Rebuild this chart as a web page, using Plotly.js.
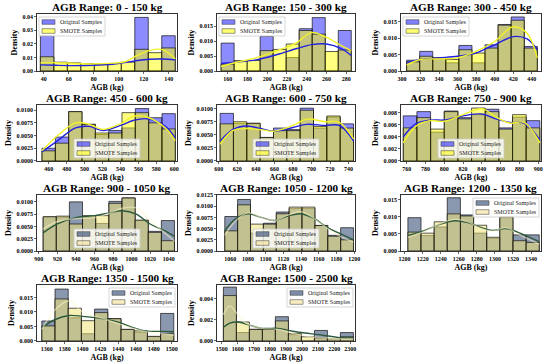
<!DOCTYPE html>
<html><head><meta charset="utf-8">
<script src="https://cdn.plot.ly/plotly-3.0.1.min.js"></script>
<style>html,body{margin:0;padding:0;background:#fff}#chart{width:550px;height:364px}</style>
</head><body><div id="chart"></div><script>
// ---------- DATA ----------
const rangeTitles = ["AGB Range: 0 - 150 kg","AGB Range: 150 - 300 kg","AGB Range: 300 - 450 kg",
  "AGB Range: 450 - 600 kg","AGB Range: 600 - 750 kg","AGB Range: 750 - 900 kg",
  "AGB Range: 900 - 1050 kg","AGB Range: 1050 - 1200 kg","AGB Range: 1200 - 1350 kg",
  "AGB Range: 1350 - 1500 kg","AGB Range: 1500 - 2500 kg"];
const seriesNames = ["Original Samples","SMOTE Samples"];

const p1Bins = [42.7,53.5,64.3,75.1,85.9,96.7,107.5,118.3,129.1,139.9];
const p1Orig = [0.026,0,0,0,0,0,0,0.0395,0,0.026];
const p1Smote = [0.0105,0.0065,0.006,0.0055,0.005,0.0055,0.0065,0.016,0.0135,0.017];
const p1KdeX = [37.3,50,65,80,95,105,115,125,135,145.3];
const p1KdeOrig = [0.0045,0.0042,0.004,0.0042,0.005,0.0062,0.0078,0.0087,0.0088,0.0082];
const p1KdeSmote = [0.006,0.0062,0.0056,0.0053,0.0058,0.0068,0.0115,0.0152,0.0158,0.009];

const p2Bins = [159.8,173.0,186.2,199.4,212.6,225.8,239.0,252.2,265.4,278.6];
const p2Orig = [0.0093,0,0,0.0116,0,0.0045,0.0141,0.0178,0,0.0135];
const p2Smote = [0.0023,0.0035,0.0035,0.0068,0.0072,0.009,0.0135,0.0123,0.0065,0.007];
const p2KdeX = [153.2,170,190,210,230,245,260,275,285.2];
const p2KdeOrig = [0.0025,0.003,0.0038,0.0055,0.0075,0.0088,0.009,0.0075,0.0052];
const p2KdeSmote = [0.0015,0.003,0.0045,0.0068,0.0095,0.0128,0.0112,0.0085,0.0068];

const p3Bins = [312.1,326.2,340.3,354.4,368.5,382.6,396.7,410.8,424.9,439.0];
const p3Orig = [0.0033,0.006,0.004,0.0025,0.0078,0.0025,0.008,0.0142,0.0165,0.0075];
const p3Smote = [0.0028,0.0045,0.004,0.0035,0.0065,0.0055,0.007,0.014,0.0155,0.007];
const p3KdeX = [305,320,340,360,380,400,420,435,446];
const p3KdeOrig = [0.0025,0.0035,0.004,0.0045,0.0055,0.008,0.0105,0.0098,0.0065];
const p3KdeSmote = [0.0018,0.0035,0.0037,0.004,0.006,0.009,0.0135,0.0115,0.004];

const p4Bins = [460.0,474.9,489.7,504.6,519.4,534.3,549.1,564.0,578.8,593.7];
const p4Orig = [0.0025,0.0047,0.0097,0.0072,0.0052,0.006,0.0065,0.0103,0.0085,0.0093];
const p4Smote = [0.002,0.0035,0.0097,0.0072,0.0055,0.0055,0.0095,0.0095,0.0075,0.0063];
const p4KdeX = [452.6,470,490,505,520,540,555,570,590,601];
const p4KdeOrig = [0.0018,0.004,0.0065,0.0068,0.006,0.007,0.008,0.0083,0.0068,0.0045];
const p4KdeSmote = [0.002,0.005,0.0075,0.0072,0.0062,0.0073,0.0088,0.0086,0.0065,0.004];

const p5Bins = [608.6,623.0,637.4,651.8,666.2,680.6,695.0,709.4,723.8,738.2];
const p5Orig = [0.0091,0.0072,0.0072,0.0045,0.0063,0.006,0.0101,0.0063,0.0084,0.0071];
const p5Smote = [0.0071,0.0075,0.0072,0.0045,0.0058,0.0058,0.0097,0.0066,0.0086,0.0063];
const p5KdeX = [601.4,615,630,645,660,680,695,715,730,745.6];
const p5KdeOrig = [0.0038,0.006,0.0067,0.0062,0.0057,0.0064,0.007,0.0068,0.0068,0.0038];
const p5KdeSmote = [0.0032,0.0058,0.0062,0.006,0.0057,0.0068,0.008,0.0075,0.0074,0.0042];

const p6Bins = [763.7,778.2,792.8,807.3,821.8,836.4,850.9,865.5,880.0,894.5];
const p6Orig = [0.0075,0.0082,0.0048,0.0083,0.0072,0.0077,0.0086,0.0055,0.0073,0.0067];
const p6Smote = [0.0055,0.0072,0.0053,0.0082,0.007,0.0088,0.0082,0.0053,0.0077,0.0055];
const p6KdeX = [756.4,770,785,800,820,840,855,870,885,901.8];
const p6KdeOrig = [0.004,0.0062,0.0068,0.0068,0.0075,0.0078,0.007,0.0064,0.0063,0.0035];
const p6KdeSmote = [0.003,0.0058,0.0067,0.0066,0.0077,0.0087,0.0073,0.0063,0.0064,0.003];

const p7Bins = [911.7,925.9,940.0,954.2,968.4,982.6,996.8,1010.9,1025.1,1039.2];
const p7Orig = [0.0069,0.0069,0.01,0.0069,0.0056,0.0101,0.0108,0.0062,0.004,0.0062];
const p7Smote = [0.007,0.0071,0.0055,0.0072,0.0072,0.0097,0.0108,0.0063,0.0038,0.0021];
const p7KdeX = [904.6,920,940,960,975,990,1005,1020,1035,1046.3];
const p7KdeOrig = [0.0037,0.0055,0.0068,0.0072,0.0077,0.0082,0.0075,0.0055,0.0042,0.003];
const p7KdeSmote = [0.0045,0.006,0.0066,0.0068,0.0076,0.0087,0.0088,0.0062,0.0038,0.002];

const p8Bins = [1061.1,1075.6,1090.2,1104.7,1119.3,1133.8,1148.4,1162.9,1177.5,1192.0];
const p8Orig = [0.0077,0.0115,0.004,0.0062,0.0087,0.0095,0.0095,0.0057,0.0035,0.0052];
const p8Smote = [0.0045,0.0103,0.006,0.006,0.0083,0.0098,0.0098,0.0057,0.0033,0.0025];
const p8KdeX = [1053.8,1065,1080,1095,1110,1125,1140,1155,1170,1185,1199.3];
const p8KdeOrig = [0.0045,0.007,0.0083,0.0075,0.0068,0.0078,0.0083,0.0072,0.0052,0.0038,0.0025];
const p8KdeSmote = [0.0035,0.0065,0.0085,0.0075,0.0068,0.008,0.0088,0.0072,0.005,0.0032,0.002];

const p9Bins = [1210.9,1225.4,1240.0,1254.5,1269.1,1283.6,1298.2,1312.7,1327.3,1341.8];
const p9Orig = [0.0097,0.0045,0.007,0.0155,0.0105,0.0052,0.0037,0.0097,0.0047,0.0047];
const p9Smote = [0.0055,0.0052,0.0085,0.0108,0.0102,0.0075,0.004,0.01,0.003,0.0025];
const p9KdeX = [1203.6,1220,1240,1255,1270,1285,1297,1312,1325,1349];
const p9KdeOrig = [0.0045,0.0058,0.0078,0.0088,0.0083,0.0068,0.006,0.0065,0.0055,0.0027];
const p9KdeSmote = [0.004,0.0055,0.008,0.0092,0.0085,0.0065,0.0058,0.0068,0.005,0.002];

const p10Bins = [1361.8,1376.6,1391.4,1406.2,1421.0,1435.8,1450.6,1465.4,1480.2,1495.0];
const p10Orig = [0.0069,0.0179,0.008,0.0025,0.011,0.0077,0.004,0.003,0.0015,0.0095];
const p10Smote = [0.0052,0.0145,0.0113,0.007,0.0098,0.0077,0.004,0.0035,0.0016,0.0025];
const p10KdeX = [1354.4,1370,1385,1400,1420,1440,1455,1470,1490,1502.6];
const p10KdeOrig = [0.0047,0.0075,0.0088,0.0085,0.0078,0.0065,0.0048,0.0035,0.0033,0.0032];
const p10KdeSmote = [0.004,0.011,0.0138,0.01,0.008,0.006,0.0045,0.0033,0.0025,0.002];

const p11Bins = [1550.5,1631.5,1712.5,1793.5,1874.5,1955.5,2036.5,2117.5,2198.5,2279.5];
const p11Orig = [0.0051,0.0008,0.0011,0.0011,0.0023,0.0006,0,0.001,0,0.0008];
const p11Smote = [0.0043,0.0018,0.0011,0.0011,0.0019,0.0007,0.0004,0.0003,0.0002,0.0004];
const p11KdeX = [1510,1550,1600,1650,1750,1850,1950,2050,2150,2250,2320];
const p11KdeOrig = [0.0013,0.0017,0.0018,0.0016,0.0012,0.0012,0.0009,0.0007,0.0005,0.0003,0.0003];
const p11KdeSmote = [0.0025,0.0033,0.0025,0.0017,0.0012,0.0011,0.0007,0.0004,0.0003,0.0002,0.0002];

// ---------- LAYOUT / STYLE ----------
const panels = [
  [p1Bins,p1Orig,p1Smote,p1KdeX,p1KdeOrig,p1KdeSmote],
  [p2Bins,p2Orig,p2Smote,p2KdeX,p2KdeOrig,p2KdeSmote],
  [p3Bins,p3Orig,p3Smote,p3KdeX,p3KdeOrig,p3KdeSmote],
  [p4Bins,p4Orig,p4Smote,p4KdeX,p4KdeOrig,p4KdeSmote],
  [p5Bins,p5Orig,p5Smote,p5KdeX,p5KdeOrig,p5KdeSmote],
  [p6Bins,p6Orig,p6Smote,p6KdeX,p6KdeOrig,p6KdeSmote],
  [p7Bins,p7Orig,p7Smote,p7KdeX,p7KdeOrig,p7KdeSmote],
  [p8Bins,p8Orig,p8Smote,p8KdeX,p8KdeOrig,p8KdeSmote],
  [p9Bins,p9Orig,p9Smote,p9KdeX,p9KdeOrig,p9KdeSmote],
  [p10Bins,p10Orig,p10Smote,p10KdeX,p10KdeOrig,p10KdeSmote],
  [p11Bins,p11Orig,p11Smote,p11KdeX,p11KdeOrig,p11KdeSmote]
];
const xRanges = [[34.6,146.7],[149,289],[299,450],[447,603],[598,747],[754,903],[898,1049],[1045,1201],[1196,1351],[1349,1506],[1470,2330]];
const yRanges = [[0,0.042],[0,0.019],[0,0.0174],[0,0.011],[0,0.0107],[0,0.0093],[0,0.0114],[0,0.0125],[0,0.0163],[0,0.0193],[0,0.0053]];
const xDticks = [20,20,20,20,20,20,20,20,20,20,100];
const yDticks = [0.01,0.005,0.005,0.0025,0.0025,0.002,0.0025,0.0025,0.005,0.005,0.002];
const yFormats = ['.2f','.3f','.3f','.4f','.4f','.3f','.4f','.4f','.3f','.3f','.3f'];
const legendPos = ['ul','ul','ul','lc','lc','lc','lc','lc','ur','ur','ur'];
const colDom = [[0.0673,0.3218],[0.3945,0.6455],[0.7291,0.9836]];
const rowDom = [[0.8049,0.9615],[0.5577,0.7115],[0.3104,0.4643],[0.0632,0.217]];
const themes = {
  A:{orig:'rgba(0,0,255,0.45)', smote:'rgba(255,255,0,0.5)', kOrig:'#2222dd', kSmote:'#f2f22a',
     swOrig:'rgba(0,0,255,0.5)', swSmote:'rgba(255,255,0,0.55)'},
  B:{orig:'rgba(40,65,110,0.55)', smote:'rgba(240,228,120,0.55)', kOrig:'#2d5a3c', kSmote:'rgba(255,246,200,0.55)',
     swOrig:'rgba(40,65,110,0.6)', swSmote:'rgba(245,225,150,0.6)'}
};
const serif = 'Liberation Serif, Times New Roman, serif';
const W = 550, H = 364;

const traces = [], shapes = [], annotations = [];
const layout = {width:W, height:H, margin:{l:0,r:0,t:0,b:0}, paper_bgcolor:'#fff', plot_bgcolor:'#fff',
  barmode:'overlay', showlegend:false, font:{family:serif, color:'#000'}};

panels.forEach((p, i) => {
  const [bins, orig, smote, kx, ko, ks] = p;
  const n = i + 1, xs = n === 1 ? '' : String(n);
  const xa = 'x' + xs, ya = 'y' + xs;
  const theme = i < 6 ? themes.A : themes.B;
  const dx = colDom[i % 3], dy = rowDom[Math.floor(i / 3)];
  const bw = (bins[bins.length - 1] - bins[0]) / (bins.length - 1);
  traces.push({type:'bar', x:bins, y:orig, width:bw, name:seriesNames[0], xaxis:xa, yaxis:ya,
    marker:{color:theme.orig, line:{color:'#111', width:0.7}}});
  traces.push({type:'bar', x:bins, y:smote, width:bw, name:seriesNames[1], xaxis:xa, yaxis:ya,
    marker:{color:theme.smote, line:{color:'#111', width:0.7}}});
  traces.push({type:'scatter', mode:'lines', x:kx, y:ko, xaxis:xa, yaxis:ya, name:seriesNames[0]+' KDE',
    line:{color:theme.kOrig, width:1.4, shape:'spline', smoothing:1}});
  traces.push({type:'scatter', mode:'lines', x:kx, y:ks, xaxis:xa, yaxis:ya, name:seriesNames[1]+' KDE',
    line:{color:theme.kSmote, width:1.4, shape:'spline', smoothing:1}});

  const common = {showline:true, mirror:true, linecolor:'#000', linewidth:0.8, ticks:'outside', ticklen:2,
    tickwidth:0.6, tickcolor:'#000', showgrid:false, zeroline:false, automargin:false,
    tickfont:{family:serif, size:6, color:'#000', weight:'bold'}};
  layout['xaxis' + xs] = Object.assign({}, common, {domain:dx, range:xRanges[i], anchor:ya,
    tick0:0, dtick:xDticks[i],
    title:{text:'AGB (kg)', font:{family:serif, size:8, weight:'bold', color:'#000'}, standoff:3}});
  layout['yaxis' + xs] = Object.assign({}, common, {domain:dy, range:yRanges[i], anchor:xa,
    tick0:0, dtick:yDticks[i], tickformat:yFormats[i],
    title:{text:'Density', font:{family:serif, size:8, weight:'bold', color:'#000'}, standoff:3}});

  annotations.push({text:rangeTitles[i], xref:xa + ' domain', yref:ya + ' domain', x:0.5, y:1,
    xanchor:'center', yanchor:'bottom', yshift:-1, showarrow:false,
    font:{family:serif, size:11.2, weight:'bold', color:'#000'}});

  // manual legend (matplotlib style)
  const pw = (dx[1] - dx[0]) * W, ph = (dy[1] - dy[0]) * H;
  const bwid = 66, bh = 19;
  let left, top;
  if (legendPos[i] === 'ul') { left = 2; top = 3; }
  else if (legendPos[i] === 'ur') { left = pw - 2 - bwid; top = 3; }
  else { left = (pw - bwid) / 2; top = ph - 3 - bh; }
  const fx = v => v / pw, fy = v => 1 - v / ph;
  const xr = xa + ' domain', yr = ya + ' domain';
  shapes.push({type:'rect', xref:xr, yref:yr, x0:fx(left), x1:fx(left + bwid), y0:fy(top), y1:fy(top + bh),
    fillcolor:'rgba(255,255,255,0.8)', line:{color:'#cccccc', width:0.8}, layer:'above'});
  const sw = [theme.swOrig, theme.swSmote];
  [5, 14].forEach((cy, k) => {
    shapes.push({type:'rect', xref:xr, yref:yr, x0:fx(left + 3), x1:fx(left + 16), y0:fy(cy + top - 2.3), y1:fy(cy + top + 2.3),
      fillcolor:sw[k], line:{color:'#333', width:0.5}, layer:'above'});
    annotations.push({text:seriesNames[k], xref:xr, yref:yr, x:fx(left + 19), y:fy(top + cy),
      xanchor:'left', yanchor:'middle', showarrow:false,
      font:{family:serif, size:6, color:'#222'}});
  });
});
layout.shapes = shapes;
layout.annotations = annotations;
Plotly.newPlot('chart', traces, layout, {displayModeBar:false, staticPlot:true});
</script></body></html>
